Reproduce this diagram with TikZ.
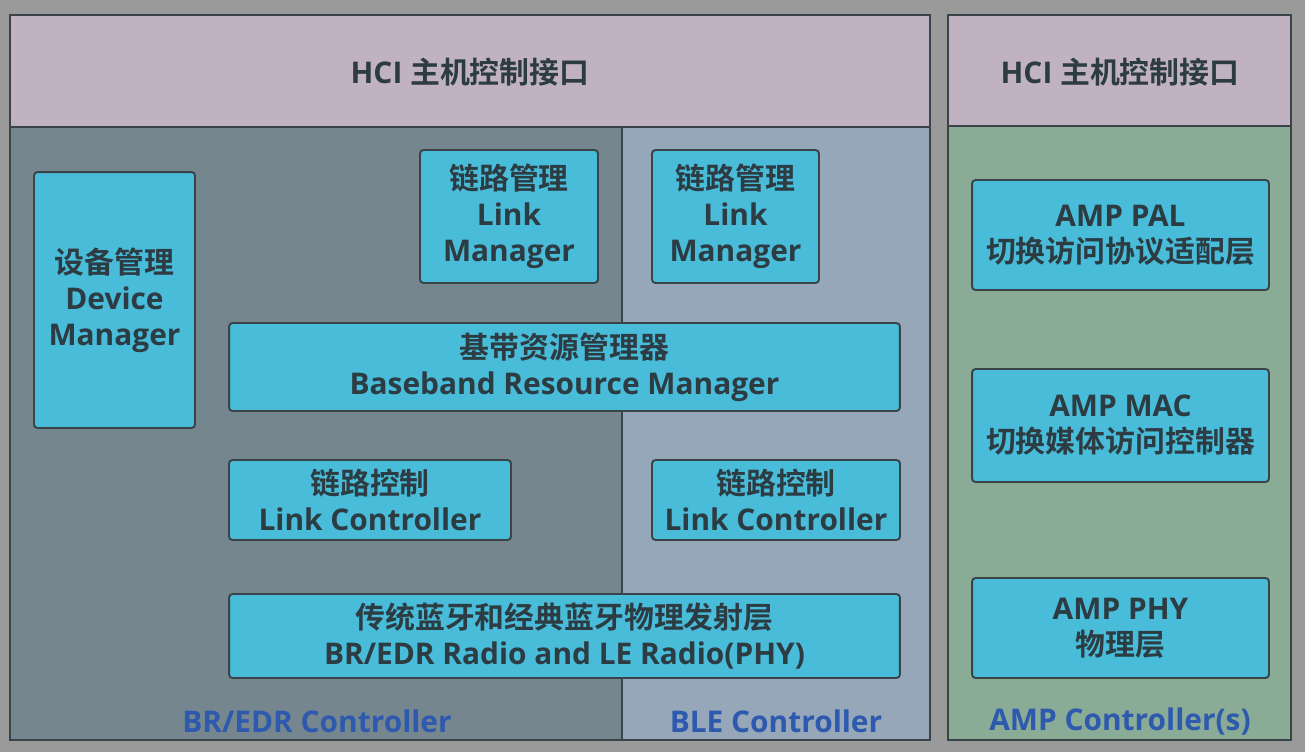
\documentclass[tikz,border=0pt]{standalone}
\usepackage{fontspec}
\setmainfont{Open Sans}[BoldFont={Open Sans Bold}]
\newfontfamily\cjk{Noto Sans CJK SC}[BoldFont={Noto Sans CJK SC Bold}]
\definecolor{bggray}{HTML}{9A9A9A}
\definecolor{hcipink}{HTML}{C0B2C2}
\definecolor{edrslate}{HTML}{75868E}
\definecolor{bleblue}{HTML}{95A7B9}
\definecolor{ampgreen}{HTML}{8AAB95}
\definecolor{boxcyan}{HTML}{48BCD9}
\definecolor{inkdark}{HTML}{2D3B42}
\definecolor{labelblue}{HTML}{2D5AAE}
\definecolor{edgedark}{HTML}{3A4448}
\begin{document}
\begin{tikzpicture}[
    x=0.02cm,y=-0.02cm,
    panel/.style={draw=edgedark,line width=1.1pt},
    box/.style={draw=edgedark,line width=1.1pt,fill=boxcyan,rounded corners=2pt,
      align=center,inner sep=0pt,text=inkdark,font=\fontsize{17}{20.5}\selectfont\bfseries},
    title/.style={text=inkdark,font=\fontsize{17}{20.5}\selectfont\bfseries},
    tag/.style={text=labelblue,font=\fontsize{17}{20.5}\selectfont\bfseries}
    ]
    \useasboundingbox[fill=bggray] (0, 0) rectangle (1305, 752);
    % host interface and controller panels
    \fill[edrslate] (10, 127) rectangle (622, 740);
    \fill[bleblue] (622, 127) rectangle (930, 740);
    \fill[ampgreen] (948, 126) rectangle (1291, 740);
    \draw[panel,fill=hcipink] (10, 15) rectangle (930, 127);
    \draw[panel,fill=hcipink] (948, 15) rectangle (1291, 126);
    \draw[panel] (10, 15) rectangle (930, 740);
    \draw[panel] (948, 15) rectangle (1291, 740);
    \draw[panel] (622, 127) -- (622, 740);
    \node[title] (hci) at (470, 72) {HCI {\cjk 主机控制接口}};
    \node[title] (amphci) at (1120, 72) {HCI {\cjk 主机控制接口}};
    % BR/EDR and BLE blocks
    \node[box,minimum width=3.22cm,minimum height=5.12cm] (devmgr) at (114.5, 300) {{\cjk 设备管理}\\Device\\Manager};
    \node[box,minimum width=3.56cm,minimum height=2.66cm] (lmedr) at (509, 216.5) {{\cjk 链路管理}\\Link\\Manager};
    \node[box,minimum width=3.34cm,minimum height=2.66cm] (lmble) at (735.5, 216.5) {{\cjk 链路管理}\\Link\\Manager};
    \node[box,minimum width=13.42cm,minimum height=1.76cm] (brm) at (564.5, 367) {{\cjk 基带资源管理器}\\Baseband Resource Manager};
    \node[box,minimum width=5.64cm,minimum height=1.6cm] (lcedr) at (370, 500) {{\cjk 链路控制}\\Link Controller};
    \node[box,minimum width=4.96cm,minimum height=1.6cm] (lcble) at (776, 500) {{\cjk 链路控制}\\Link Controller};
    \node[box,minimum width=13.42cm,minimum height=1.68cm] (radio) at (564.5, 636) {{\cjk 传统蓝牙和经典蓝牙物理发射层}\\BR/EDR Radio and LE Radio(PHY)};
    % AMP blocks
    \node[box,minimum width=5.94cm,minimum height=2.2cm] (pal) at (1120.5, 235) {AMP PAL\\{\cjk 切换访问协议适配层}};
    \node[box,minimum width=5.94cm,minimum height=2.26cm] (mac) at (1120.5, 425.5) {AMP MAC\\{\cjk 切换媒体访问控制器}};
    \node[box,minimum width=5.94cm,minimum height=2cm] (phy) at (1120.5, 628) {AMP PHY\\{\cjk 物理层}};
    \node[tag] (edrtag) at (317, 721) {BR/EDR Controller};
    \node[tag] (bletag) at (776, 721) {BLE Controller};
    \node[tag] (amptag) at (1120, 721) {AMP Controller(s)};
  \end{tikzpicture}
\end{document}
